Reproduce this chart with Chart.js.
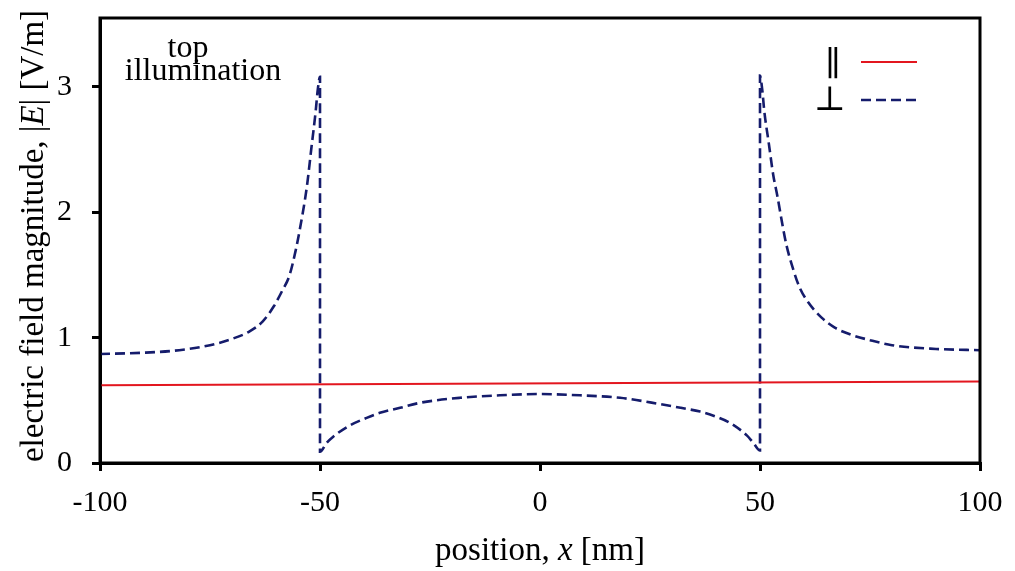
<!DOCTYPE html>
<html>
<head>
<meta charset="utf-8">
<script src="https://cdn.jsdelivr.net/npm/chart.js@4"></script>
<style>
  html, body { margin: 0; padding: 0; background: #fff; }
  #wrap { width: 1015px; height: 571px; position: relative; }
</style>
</head>
<body>
<div id="wrap"><canvas id="fieldChart"></canvas></div>
<script>
// x positions (nm) and |E| values
const parX = [-100, 100];
const parY = [0.62, 0.65];

const perpX = [
  -100, -90, -82, -75, -70, -66, -63, -60.5, -58.5, -57, -55.5, -54.5, -53, -52, -51, -50.5, -50,
  -50, -48.5, -47, -43.2, -39.4, -36.4, -31.8, -27.3, -18.2, -9.1, 0,
  9.1, 18.2, 27.3, 32, 36.4, 40, 43.2, 47, 48.5, 50,
  50, 50.5, 51, 52, 53, 54, 55, 56, 57.5, 59, 61, 64, 67, 71, 75, 80, 90, 100
];
const perpY = [
  0.87, 0.88, 0.90, 0.94, 0.99, 1.05, 1.13, 1.25, 1.38, 1.49, 1.70, 1.88, 2.20, 2.50, 2.80, 2.98, 3.08,
  0.09, 0.16, 0.21, 0.30, 0.36, 0.40, 0.44, 0.48, 0.52, 0.54, 0.55,
  0.54, 0.52, 0.47, 0.44, 0.41, 0.37, 0.32, 0.22, 0.16, 0.10,
  3.09, 2.98, 2.80, 2.55, 2.30, 2.12, 1.92, 1.74, 1.55, 1.40, 1.28, 1.16, 1.08, 1.02, 0.98, 0.94, 0.91, 0.90
];

const xTicks = [-100, -50, 0, 50, 100];
const yTicks = [0, 1, 2, 3];

const RED = "#e3161f";
const NAVY = "#151c6c";
const SERIF = "'Liberation Serif', 'DejaVu Serif', serif";

function pts(xs, ys) {
  return xs.map((x, i) => ({ x: x, y: ys[i] }));
}

// draw text made of roman / italic pieces, centred on the current origin
function richText(ctx, parts, size) {
  const fonts = parts.map((p) => (p.it ? "italic " : "") + size + "px " + SERIF);
  let total = 0;
  const widths = parts.map((p, i) => {
    ctx.font = fonts[i];
    const w = ctx.measureText(p.t).width;
    total += w;
    return w;
  });
  let x = -total / 2;
  ctx.textAlign = "left";
  ctx.textBaseline = "alphabetic";
  parts.forEach((p, i) => {
    ctx.font = fonts[i];
    ctx.fillText(p.t, x, 0);
    x += widths[i];
  });
}

const overlay = {
  id: "overlay",
  afterDraw(chart) {
    const ctx = chart.ctx;
    const a = chart.chartArea;
    ctx.save();
    ctx.fillStyle = "#000";
    ctx.strokeStyle = "#000";

    // frame
    ctx.lineWidth = 3;
    ctx.strokeRect(a.left, a.top, a.right - a.left, a.bottom - a.top);

    // annotation
    ctx.font = "32px " + SERIF;
    ctx.textAlign = "center";
    ctx.textBaseline = "alphabetic";
    ctx.fillText("top", 188, 57);
    ctx.fillText("illumination", 203, 80);

    // legend
    ctx.font = "34px " + SERIF;
    ctx.fillText("\u2225", 833, 75);
    ctx.fillText("\u22A5", 830, 110);
    ctx.lineWidth = 2;
    ctx.strokeStyle = RED;
    ctx.beginPath();
    ctx.moveTo(861, 62);
    ctx.lineTo(917, 62);
    ctx.stroke();
    ctx.strokeStyle = NAVY;
    ctx.lineWidth = 2.6;
    ctx.setLineDash([10, 5]);
    ctx.beginPath();
    ctx.moveTo(861, 100);
    ctx.lineTo(917, 100);
    ctx.stroke();
    ctx.setLineDash([]);

    // axis titles
    ctx.fillStyle = "#000";
    ctx.save();
    ctx.translate((a.left + a.right) / 2, 560);
    richText(ctx, [{ t: "position, " }, { t: "x", it: true }, { t: " [nm]" }], 33);
    ctx.restore();

    ctx.save();
    ctx.translate(43, 236);
    ctx.rotate(-Math.PI / 2);
    richText(ctx, [{ t: "electric field magnitude, |" }, { t: "E", it: true }, { t: "| [V/m]" }], 33);
    ctx.restore();

    ctx.restore();
  }
};

const ctx = document.getElementById("fieldChart").getContext("2d");
new Chart(ctx, {
  type: "line",
  data: {
    datasets: [
      {
        label: "\u2225",
        data: pts(parX, parY),
        borderColor: RED,
        borderWidth: 2,
        pointRadius: 0,
        fill: false
      },
      {
        label: "\u22A5",
        data: pts(perpX, perpY),
        borderColor: NAVY,
        borderWidth: 2.6,
        borderDash: [10, 5],
        pointRadius: 0,
        cubicInterpolationMode: "monotone",
        fill: false
      }
    ]
  },
  options: {
    responsive: true,
    maintainAspectRatio: false,
    animation: false,
    layout: { padding: { left: 0, top: 18, right: 35, bottom: 0 } },
    plugins: {
      legend: { display: false },
      tooltip: { enabled: false }
    },
    scales: {
      x: {
        type: "linear",
        min: -100,
        max: 100,
        afterBuildTicks: (s) => { s.ticks = xTicks.map((v) => ({ value: v })); },
        afterFit: (s) => { s.height = 108; s.paddingLeft = 0; s.paddingRight = 0; },
        grid: { drawOnChartArea: false, tickLength: 8, color: "#000", lineWidth: 3 },
        border: { color: "#000", width: 3 },
        ticks: {
          color: "#000",
          padding: 14,
          maxRotation: 0,
          font: { family: SERIF, size: 30 }
        }
      },
      y: {
        type: "linear",
        min: 0,
        max: 3.55,
        afterBuildTicks: (s) => { s.ticks = yTicks.map((v) => ({ value: v })); },
        afterFit: (s) => { s.width = 100; s.paddingTop = 0; s.paddingBottom = 0; },
        grid: { drawOnChartArea: false, tickLength: 8, color: "#000", lineWidth: 3 },
        border: { color: "#000", width: 3 },
        ticks: {
          color: "#000",
          padding: 20,
          font: { family: SERIF, size: 30 }
        }
      }
    }
  },
  plugins: [overlay]
});
</script>
</body>
</html>
